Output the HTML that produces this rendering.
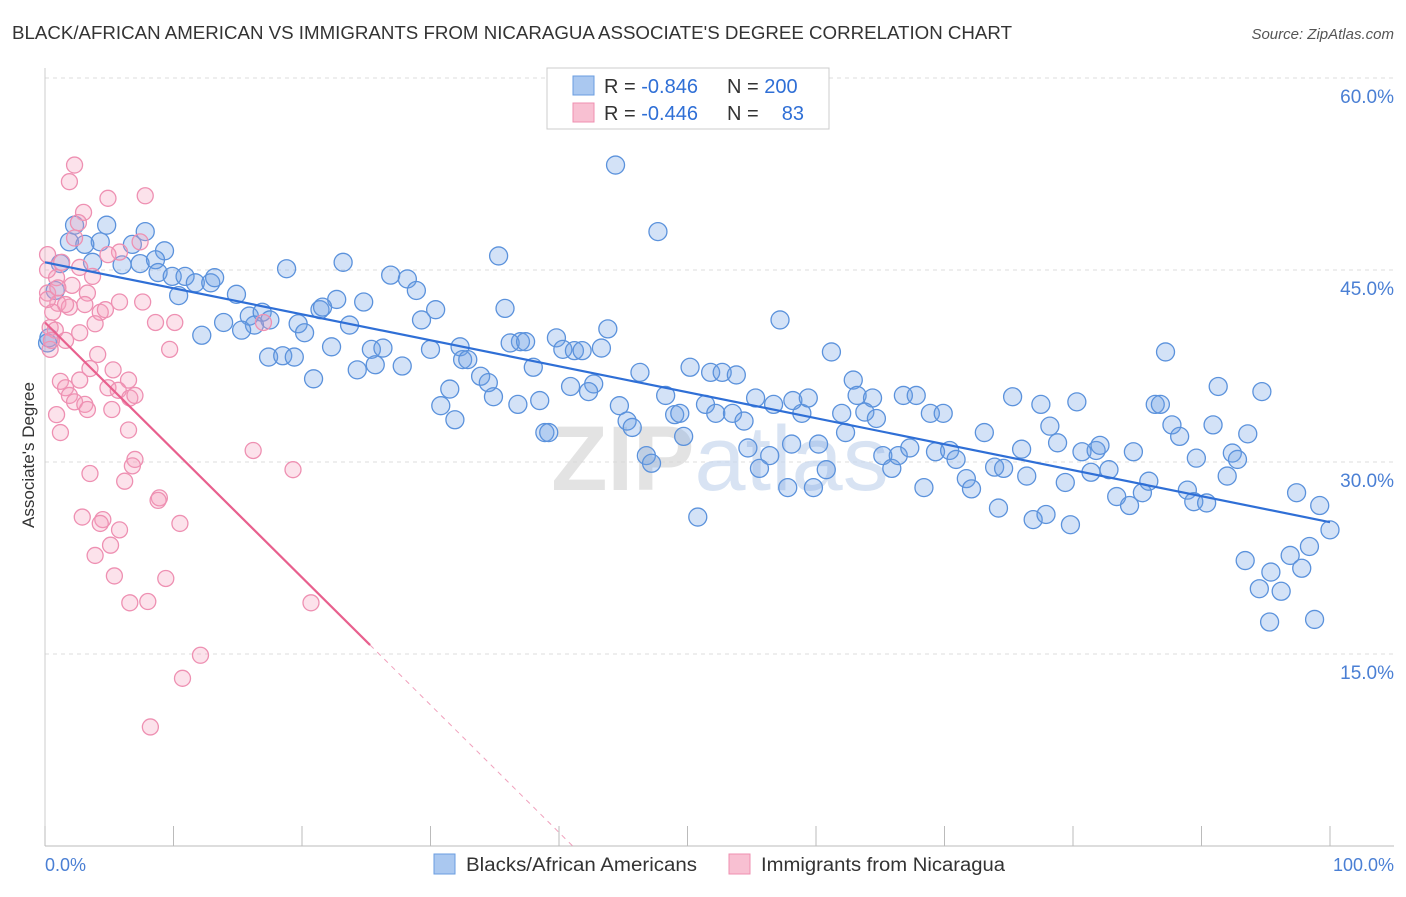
<!DOCTYPE html>
<html><head><meta charset="utf-8">
<style>
body{margin:0;background:#fff;font-family:"Liberation Sans",sans-serif;}
svg text{font-family:"Liberation Sans",sans-serif;}
</style></head>
<body>
<svg id="chart" width="1406" height="892" viewBox="0 0 1406 892" xmlns="http://www.w3.org/2000/svg">
<text x="12" y="39" font-size="18" fill="#333" textLength="1000" lengthAdjust="spacingAndGlyphs">BLACK/AFRICAN AMERICAN VS IMMIGRANTS FROM NICARAGUA ASSOCIATE'S DEGREE CORRELATION CHART</text>
<text x="1394" y="39" font-size="15" fill="#555" text-anchor="end" font-style="italic">Source: ZipAtlas.com</text>
<g id="grid"></g>
<text x="720" y="490" font-size="92" fill="#d8d8d8" text-anchor="middle" font-weight="bold" opacity="0.7">ZIP<tspan fill="#c8d8ee" font-weight="normal">atlas</tspan></text>
<g id="pts"></g>
<g id="lines"></g>
<text transform="translate(34,455) rotate(-90)" font-size="17" fill="#333" text-anchor="middle">Associate's Degree</text>
<g>
<rect x="547" y="68" width="282" height="61" fill="#fff" stroke="#ccc"/>
<rect x="573" y="76" width="21" height="19" fill="#aac8f0" stroke="#6a9de0"/>
<rect x="573" y="103" width="21" height="19" fill="#f8c0d2" stroke="#ef8fb0"/>
<text x="604" y="93" font-size="20" fill="#333">R = <tspan fill="#2f6fd6">-0.846</tspan></text>
<text x="727" y="93" font-size="20" fill="#333">N = <tspan fill="#2f6fd6">200</tspan></text>
<text x="604" y="120" font-size="20" fill="#333">R = <tspan fill="#2f6fd6">-0.446</tspan></text>
<text x="727" y="120" font-size="20" fill="#333">N = </text>
<text x="804" y="120" font-size="20" fill="#2f6fd6" text-anchor="end">83</text>
</g>
<g>
<rect x="434" y="854" width="21" height="20" fill="#aac8f0" stroke="#6a9de0"/>
<text x="466" y="871" font-size="19" fill="#333" textLength="231" lengthAdjust="spacingAndGlyphs">Blacks/African Americans</text>
<rect x="729" y="854" width="21" height="20" fill="#f8c0d2" stroke="#ef8fb0"/>
<text x="761" y="871" font-size="19" fill="#333" textLength="244" lengthAdjust="spacingAndGlyphs">Immigrants from Nicaragua</text>
</g>
<text x="45" y="871" font-size="18" fill="#4a7fd4">0.0%</text>
<text x="1394" y="871" font-size="18" fill="#4a7fd4" text-anchor="end">100.0%</text>
</svg>
<script>
const blueX=[44.4,47.7,35.3,23.2,18.8,26.9,28.2,28.9,30.4,29.3,22.7,24.8,21.4,21.6,23.7,35.8,2.3,4.8,7.8,9.3,1.9,4.3,6.8,3.1,1.2,3.7,6.0,7.4,8.6,8.8,9.9,10.9,11.7,12.9,13.2,10.4,14.9,13.9,15.9,16.9,17.5,16.3,15.3,19.7,20.2,12.2,17.4,18.5,19.4,20.9,22.3,24.3,25.4,26.3,25.7,27.8,30.0,32.3,32.5,32.9,33.9,34.5,34.9,31.5,30.8,31.9,37.0,36.2,37.4,39.8,40.3,41.2,41.8,43.3,43.8,38.0,40.9,42.7,42.3,38.5,36.8,38.9,39.2,44.7,45.3,45.7,46.8,47.2,46.3,50.2,51.8,52.7,53.8,48.3,51.4,49.0,49.4,49.7,52.2,53.5,54.4,55.3,56.7,58.9,58.2,59.4,57.2,61.2,62.9,63.2,64.4,63.8,64.7,62.0,62.3,60.2,58.1,54.7,56.4,55.6,57.8,60.8,50.8,59.8,65.2,65.9,66.4,67.3,66.8,67.8,68.9,69.9,69.3,70.4,70.9,71.7,72.1,68.4,73.1,73.9,74.6,75.3,74.2,76.0,76.4,76.9,77.5,77.9,78.2,78.8,79.4,79.8,80.3,80.7,81.4,81.8,82.1,82.8,83.4,84.4,84.7,85.4,85.9,86.4,86.8,87.2,87.7,88.3,88.9,89.6,89.4,90.4,90.9,91.3,92.0,92.4,92.8,93.6,94.7,93.4,94.5,95.4,96.2,96.9,97.4,97.8,98.4,98.8,99.2,100.0,95.3,0.2,0.8,0.3];
const blueY=[53.2,48.0,46.1,45.6,45.1,44.6,44.3,43.4,41.9,41.1,42.7,42.5,41.9,42.1,40.7,42.0,48.5,48.5,48.0,46.5,47.2,47.2,47.0,47.0,45.5,45.6,45.4,45.5,45.8,44.8,44.5,44.5,44.0,44.0,44.4,43.0,43.1,40.9,41.4,41.7,41.1,40.7,40.3,40.8,40.1,39.9,38.2,38.3,38.2,36.5,39.0,37.2,38.8,38.9,37.6,37.5,38.8,39.0,38.0,38.0,36.7,36.2,35.1,35.7,34.4,33.3,39.4,39.3,39.4,39.7,38.8,38.7,38.7,38.9,40.4,37.4,35.9,36.1,35.5,34.8,34.5,32.3,32.3,34.4,33.2,32.7,30.5,29.9,37.0,37.4,37.0,37.0,36.8,35.2,34.5,33.7,33.8,32.0,33.8,33.8,33.2,35.0,34.5,33.8,34.8,35.0,41.1,38.6,36.4,35.2,35.0,33.9,33.4,33.8,32.3,31.4,31.4,31.1,30.5,29.5,28.0,29.4,25.7,28.0,30.5,29.5,30.5,31.1,35.2,35.2,33.8,33.8,30.8,30.9,30.2,28.7,27.9,28.0,32.3,29.6,29.5,35.1,26.4,31.0,28.9,25.5,34.5,25.9,32.8,31.5,28.4,25.1,34.7,30.8,29.2,30.9,31.3,29.4,27.3,26.6,30.8,27.6,28.5,34.5,34.5,38.6,32.9,32.0,27.8,30.3,26.9,26.8,32.9,35.9,28.9,30.7,30.2,32.2,35.5,22.3,20.1,21.4,19.9,22.7,27.6,21.7,23.4,17.7,26.6,24.7,17.5,39.3,43.4,39.7];
const pinkX=[2.3,1.9,4.9,7.8,3.0,2.6,2.3,7.4,0.2,1.3,2.7,3.7,0.9,0.2,2.1,3.3,1.0,1.9,3.1,4.3,4.7,5.8,7.6,0.6,3.9,0.4,0.8,2.7,1.6,9.7,4.1,3.5,5.3,6.5,1.2,1.6,2.7,4.9,5.7,1.9,2.3,3.1,6.6,5.2,0.9,3.3,8.6,10.1,6.5,1.2,7.0,6.8,16.2,19.3,3.5,6.2,8.9,8.8,2.9,4.5,4.3,10.5,5.8,5.1,3.9,5.4,9.4,6.6,8.0,20.7,12.1,10.7,8.2,0.4,0.2,0.5,1.0,5.8,4.9,17.0,7.0,1.6,0.2];
const pinkY=[53.2,51.9,50.6,50.8,49.5,48.7,47.5,47.2,46.2,45.6,45.2,44.5,44.4,43.2,43.8,43.2,42.4,42.1,42.3,41.7,41.9,42.5,42.5,41.7,40.8,40.5,40.3,40.1,39.5,38.8,38.4,37.3,37.2,36.4,36.3,35.8,36.4,35.8,35.6,35.2,34.7,34.5,35.0,34.1,33.7,34.1,40.9,40.9,32.5,32.3,30.2,29.7,30.9,29.4,29.1,28.5,27.2,27.0,25.7,25.5,25.2,25.2,24.7,23.5,22.7,21.1,20.9,19.0,19.1,19.0,14.9,13.1,9.3,38.8,42.7,39.5,43.6,46.4,46.2,40.9,35.2,42.3,45.0];
const blueTrendY=[45.6,25.3];
const pinkTrendY=[40.9,15.7];
const pinkSolidEnd=25.3;
const yTicks=[15,30,45,60];
const yTickLabels=["15.0%","30.0%","45.0%","60.0%"];
const xTicks=[0,10,20,30,40,50,60,70,80,90,100];

const NS="http://www.w3.org/2000/svg";
const X0=45,X1=1330,Y0=846,YPER=12.8;
const sx=v=>X0+(X1-X0)*v/100;
const sy=v=>Y0-v*YPER;
function mk(tag,attrs,parent){const e=document.createElementNS(NS,tag);for(const k in attrs)e.setAttribute(k,attrs[k]);parent.appendChild(e);return e;}
const grid=document.getElementById('grid');
yTicks.forEach((t,i)=>{
  const l=mk('line',{x1:X0,x2:1394,y1:sy(t),y2:sy(t),stroke:'#ddd','stroke-dasharray':'4,4'},grid);
  
  
  const tx=mk('text',{x:1394,y:sy(t)+25,'font-size':19,fill:'#4a7fd4','text-anchor':'end'},grid);
  tx.textContent=yTickLabels[i];
  
  
});
const ax=mk('line',{x1:X0,x2:1394,y1:Y0,y2:Y0,stroke:'#bbb'},grid);


const ay=mk('line',{x1:X0,x2:X0,y1:68,y2:Y0,stroke:'#ccc'},grid);


xTicks.forEach(t=>{
  const l=mk('line',{x1:sx(t),x2:sx(t),y1:Y0-20,y2:Y0,stroke:'#bbb'},grid);
  
  
});
const pts=document.getElementById('pts');
blueX.forEach((x,i)=>{
  const c=mk('circle',{cx:sx(x),cy:sy(blueY[i]),r:9,fill:'rgba(110,160,230,0.3)',stroke:'#5b92dc','stroke-width':1.3},pts);
  
  
});
pinkX.forEach((x,i)=>{
  const c=mk('circle',{cx:sx(x),cy:sy(pinkY[i]),r:8,fill:'rgba(245,160,190,0.3)',stroke:'#ee90b2','stroke-width':1.3},pts);
  
  
});
const lines=document.getElementById('lines');
const bl=mk('line',{x1:sx(0),y1:sy(blueTrendY[0]),x2:sx(100),y2:sy(blueTrendY[1]),stroke:'#2f6fd6','stroke-width':2.2},lines);


const slope=(pinkTrendY[1]-pinkTrendY[0])/pinkSolidEnd;
const pl=mk('line',{x1:sx(0),y1:sy(pinkTrendY[0]),x2:sx(pinkSolidEnd),y2:sy(pinkTrendY[1]),stroke:'#e8608e','stroke-width':2.2},lines);


const xz=-pinkTrendY[0]/slope;
const pd=mk('line',{x1:sx(pinkSolidEnd),y1:sy(pinkTrendY[1]),x2:sx(xz),y2:sy(0),stroke:'#f0a0bc','stroke-width':1,'stroke-dasharray':'5,5'},lines);


</script>
</body></html>
